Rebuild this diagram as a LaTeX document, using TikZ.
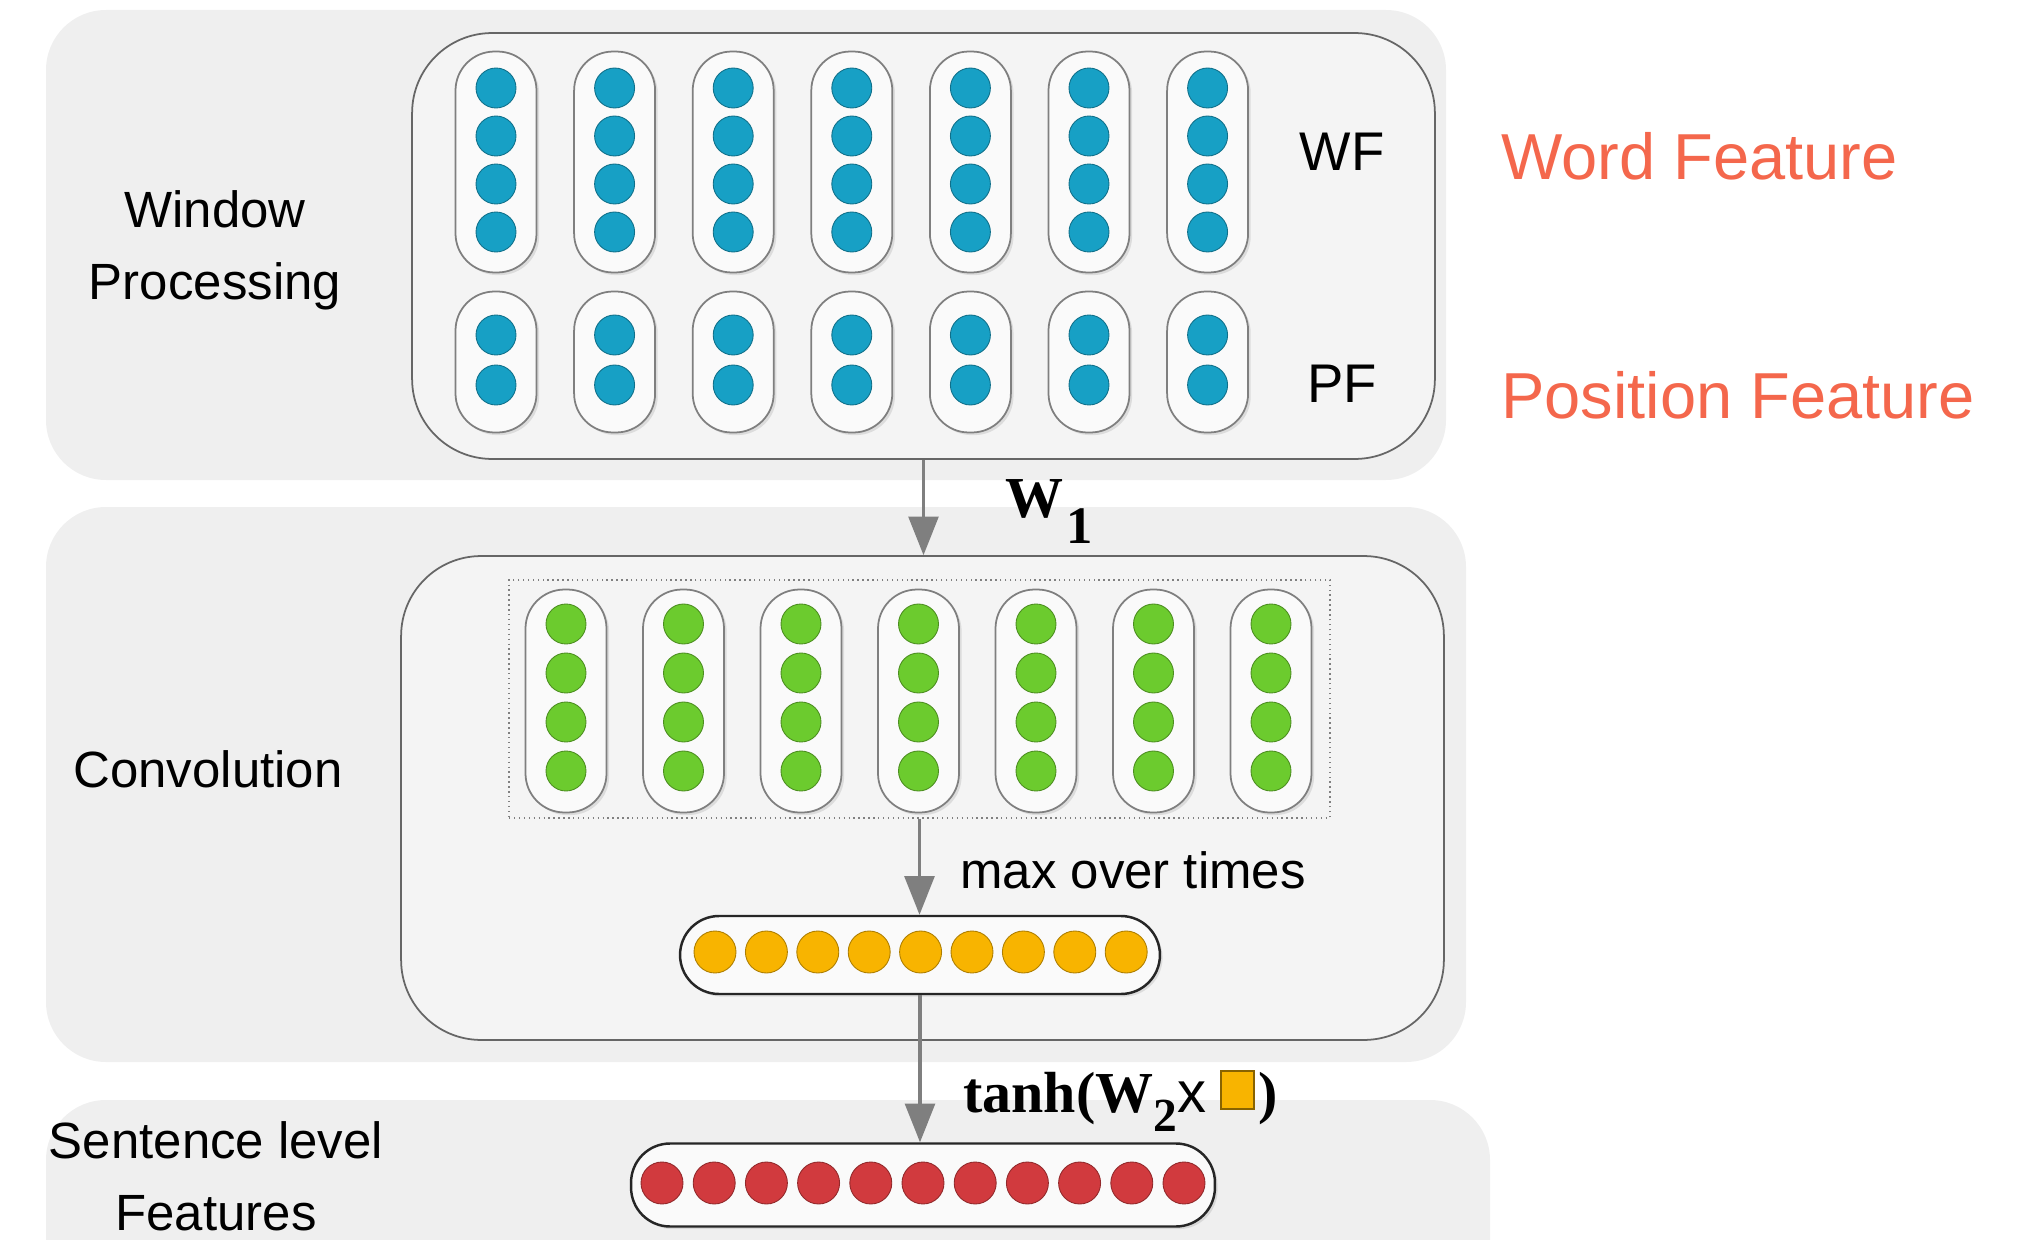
\documentclass[tikz,border=0pt]{standalone}
\usepackage{fontspec}
\setmainfont{Liberation Sans}
\newfontfamily\serifbf{Liberation Serif}
\usetikzlibrary{arrows.meta,positioning,shadows}
\definecolor{cnnpanel}{HTML}{EFEFEF}
\definecolor{cnninner}{HTML}{F4F4F4}
\definecolor{cnnteal}{HTML}{17A0C5}
\definecolor{cnngreen}{HTML}{6CCB2E}
\definecolor{cnnorange}{HTML}{F8B400}
\definecolor{cnnred}{HTML}{D13A3E}
\definecolor{cnnnote}{HTML}{F4674C}
\definecolor{cnnline}{HTML}{7F7F7F}

\begin{document}
\begin{tikzpicture}[x=0.02cm,y=-0.02cm,
  panel/.style={fill=cnnpanel, rounded corners=1.2cm},
  layerbox/.style={draw=cnnline!80!black, line width=1pt, fill=cnninner, rounded corners=1.6cm, inner sep=0pt},
  capsule/.style={draw=cnnline, line width=1pt, fill=white!96!gray, rounded corners=0.78cm, inner sep=0pt,
    drop shadow={opacity=0.2, shadow xshift=1.5pt, shadow yshift=-1.5pt}},
  unit/.style={circle, minimum size=0.8cm, inner sep=0pt, fill=#1, draw=#1!70!black, line width=0.5pt},
  lbl/.style={font=\fontsize{29}{41}\selectfont, align=center, inner sep=0pt},
  note/.style={font=\fontsize{37}{44}\selectfont, text=cnnnote, anchor=west, inner sep=0pt},
  flow/.style={draw=cnnline, line width=1.8pt, -{Triangle[length=22pt,width=17pt]}},
  formula/.style={font=\serifbf\bfseries\fontsize{33}{38}\selectfont, anchor=base west, inner sep=0pt}
]
\useasboundingbox (0,0) rectangle (2043,1240);
\clip (0,0) rectangle (2043,1240);

% layer panels
\fill[panel] (46,10) rectangle (1446,480);
\fill[panel] (46,507) rectangle (1466,1062);
\fill[panel] (46,1100) rectangle (1490,1320);

% window processing
\node[layerbox, minimum width=20.46cm, minimum height=8.52cm] (wpbox) at (923.5,246) {};
\node[lbl] (wplabel) at (215,250) {Window\\Processing};
\foreach \i in {0,...,6} {
  \node[capsule, minimum width=1.62cm, minimum height=4.42cm] (wfcol\i) at (496+118.6*\i,162) {};
  \foreach \j in {0,...,3}
    \node[unit=cnnteal] (wf\i-\j) at (496+118.6*\i,88+48*\j) {};
  \node[capsule, minimum width=1.62cm, minimum height=2.82cm] (pfcol\i) at (496+118.6*\i,362) {};
  \foreach \j in {0,1}
    \node[unit=cnnteal] (pf\i-\j) at (496+118.6*\i,335+50*\j) {};
}
\node[lbl, font=\fontsize{31}{36}\selectfont] (wf) at (1342,152) {WF};
\node[lbl, font=\fontsize{31}{36}\selectfont] (pf) at (1342,384) {PF};
\node[note] (wfnote) at (1501,156) {Word Feature};
\node[note] (pfnote) at (1501,395) {Position Feature};

% convolution
\node[layerbox, minimum width=20.86cm, minimum height=9.68cm] (convbox) at (922.5,798) {};
\node[lbl] (convlabel) at (208,769) {Convolution};
\node[draw=gray, dotted, line width=0.8pt, minimum width=16.42cm, minimum height=4.76cm, inner sep=0pt] (convwin) at (919.5,699) {};
\foreach \i in {0,...,6} {
  \node[capsule, minimum width=1.62cm, minimum height=4.46cm] (convcol\i) at (566+117.5*\i,701) {};
  \foreach \j in {0,...,3}
    \node[unit=cnngreen] (cv\i-\j) at (566+117.5*\i,624+49*\j) {};
}
\node[capsule, draw=black!85, line width=1.4pt, minimum width=9.6cm, minimum height=1.56cm] (pool) at (920,955) {};
\foreach \i in {0,...,8}
  \node[unit=cnnorange, minimum size=0.84cm] (pl\i) at (715+51.4*\i,952) {};

% sentence level
\node[lbl] (sentlabel) at (216,1176) {Sentence level\\Features};
\node[capsule, draw=black!85, line width=1.4pt, minimum width=11.68cm, minimum height=1.66cm] (sent) at (923,1185) {};
\foreach \i in {0,...,10}
  \node[unit=cnnred, minimum size=0.84cm] (sf\i) at (662+52.2*\i,1183) {};

% connectors
\draw[flow] (wpbox.south) -- (wpbox.south |- convbox.north);
\draw[flow] (convwin.south) -- (convwin.south |- pool.north);
\draw[flow] (pool.south) -- (pool.south |- sent.north);
\node[formula] (w1lbl) at (1005,517) {W\hspace{2pt}\raisebox{-15pt}{\fontsize{30}{30}\selectfont 1}};
\node[lbl, anchor=west] (maxlbl) at (960,870) {max over times};
\node[formula] (tanhlbl) at (963,1112) {tanh(W\raisebox{-11pt}{\fontsize{27}{27}\selectfont 2}{\normalfont x}\hspace{8pt}\raisebox{2pt}{\setlength\fboxsep{0pt}\setlength\fboxrule{0.8pt}\fcolorbox{cnnorange!55!black}{cnnorange}{\rule{0pt}{21pt}\rule{18pt}{0pt}}}\hspace{2pt})};
\end{tikzpicture}
\end{document}
